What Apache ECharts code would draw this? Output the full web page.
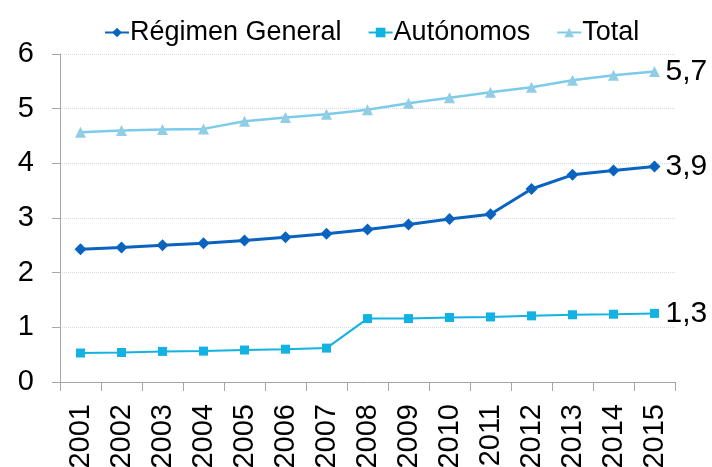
<!DOCTYPE html>
<html><head><meta charset="utf-8">
<script src="https://cdn.jsdelivr.net/npm/echarts@6/dist/echarts.min.js"></script>
<style>html,body{margin:0;padding:0;background:#fff}#c{width:712px;height:467px}</style>
</head><body><div id="c"></div>
<script>
var years = ['2001','2002','2003','2004','2005','2006','2007','2008','2009','2010','2011','2012','2013','2014','2015'];
var regimenGeneral = [2.43,2.46,2.50,2.54,2.59,2.65,2.71,2.79,2.88,2.98,3.07,3.53,3.79,3.87,3.94];
var autonomos = [0.53,0.54,0.56,0.565,0.585,0.60,0.62,1.16,1.16,1.18,1.19,1.21,1.23,1.24,1.255];
var total = [4.57,4.60,4.62,4.63,4.77,4.84,4.90,4.98,5.10,5.20,5.30,5.39,5.52,5.61,5.68];
var yTicks = [0,1,2,3,4,5,6];

var FONT = '"Liberation Sans", Arial, sans-serif';
function endLbl(){
  return {show:true, distance:11, fontSize:30, color:'#000', fontFamily:FONT,
    formatter:function(p){return p.value.toFixed(1).replace('.',',');}};
}
var chart = echarts.init(document.getElementById('c'), null, {renderer:'canvas'});
chart.setOption({
  animation:false,
  textStyle:{fontFamily:FONT},
  legend:{top:14, left:99, itemGap:26, itemWidth:24, itemHeight:12,
    textStyle:{fontSize:27, color:'#000', fontFamily:FONT, padding:[0,0,0,-4]},
    data:['Régimen General','Autónomos','Total']},
  grid:{left:60, right:37, top:54, bottom:85, containLabel:false, outerBoundsMode:'none'},
  xAxis:{type:'category', data:years, boundaryGap:true,
    axisLine:{lineStyle:{color:'#A6A6A6', width:1}},
    axisTick:{show:true, alignWithLabel:false, length:9, lineStyle:{color:'#A6A6A6'}},
    axisLabel:{rotate:90, fontSize:29, color:'#000', margin:22, fontFamily:FONT}},
  yAxis:{type:'value', min:yTicks[0], max:yTicks[yTicks.length-1], interval:1,
    axisLine:{show:true, lineStyle:{color:'#A6A6A6'}},
    axisTick:{show:true, length:8, lineStyle:{color:'#A6A6A6'}},
    axisLabel:{fontSize:29, color:'#000', margin:26, fontFamily:FONT, padding:[3,0,0,0]},
    splitLine:{lineStyle:{color:'#D9D9D9', type:'dotted'}}},
  series:[
    {name:'Régimen General', type:'line', data:regimenGeneral, symbol:'diamond', symbolSize:12,
      lineStyle:{color:'#0B63C0', width:3}, itemStyle:{color:'#0B63C0'}, endLabel:endLbl()},
    {name:'Autónomos', type:'line', data:autonomos, symbol:'rect', symbolSize:9,
      lineStyle:{color:'#12B2E2', width:2}, itemStyle:{color:'#12B2E2'}, endLabel:endLbl()},
    {name:'Total', type:'line', data:total, symbol:'triangle', symbolSize:11,
      lineStyle:{color:'#7CCBEA', width:2.5}, itemStyle:{color:'#92CDE6'}, endLabel:endLbl()}
  ]
});
</script></body></html>
